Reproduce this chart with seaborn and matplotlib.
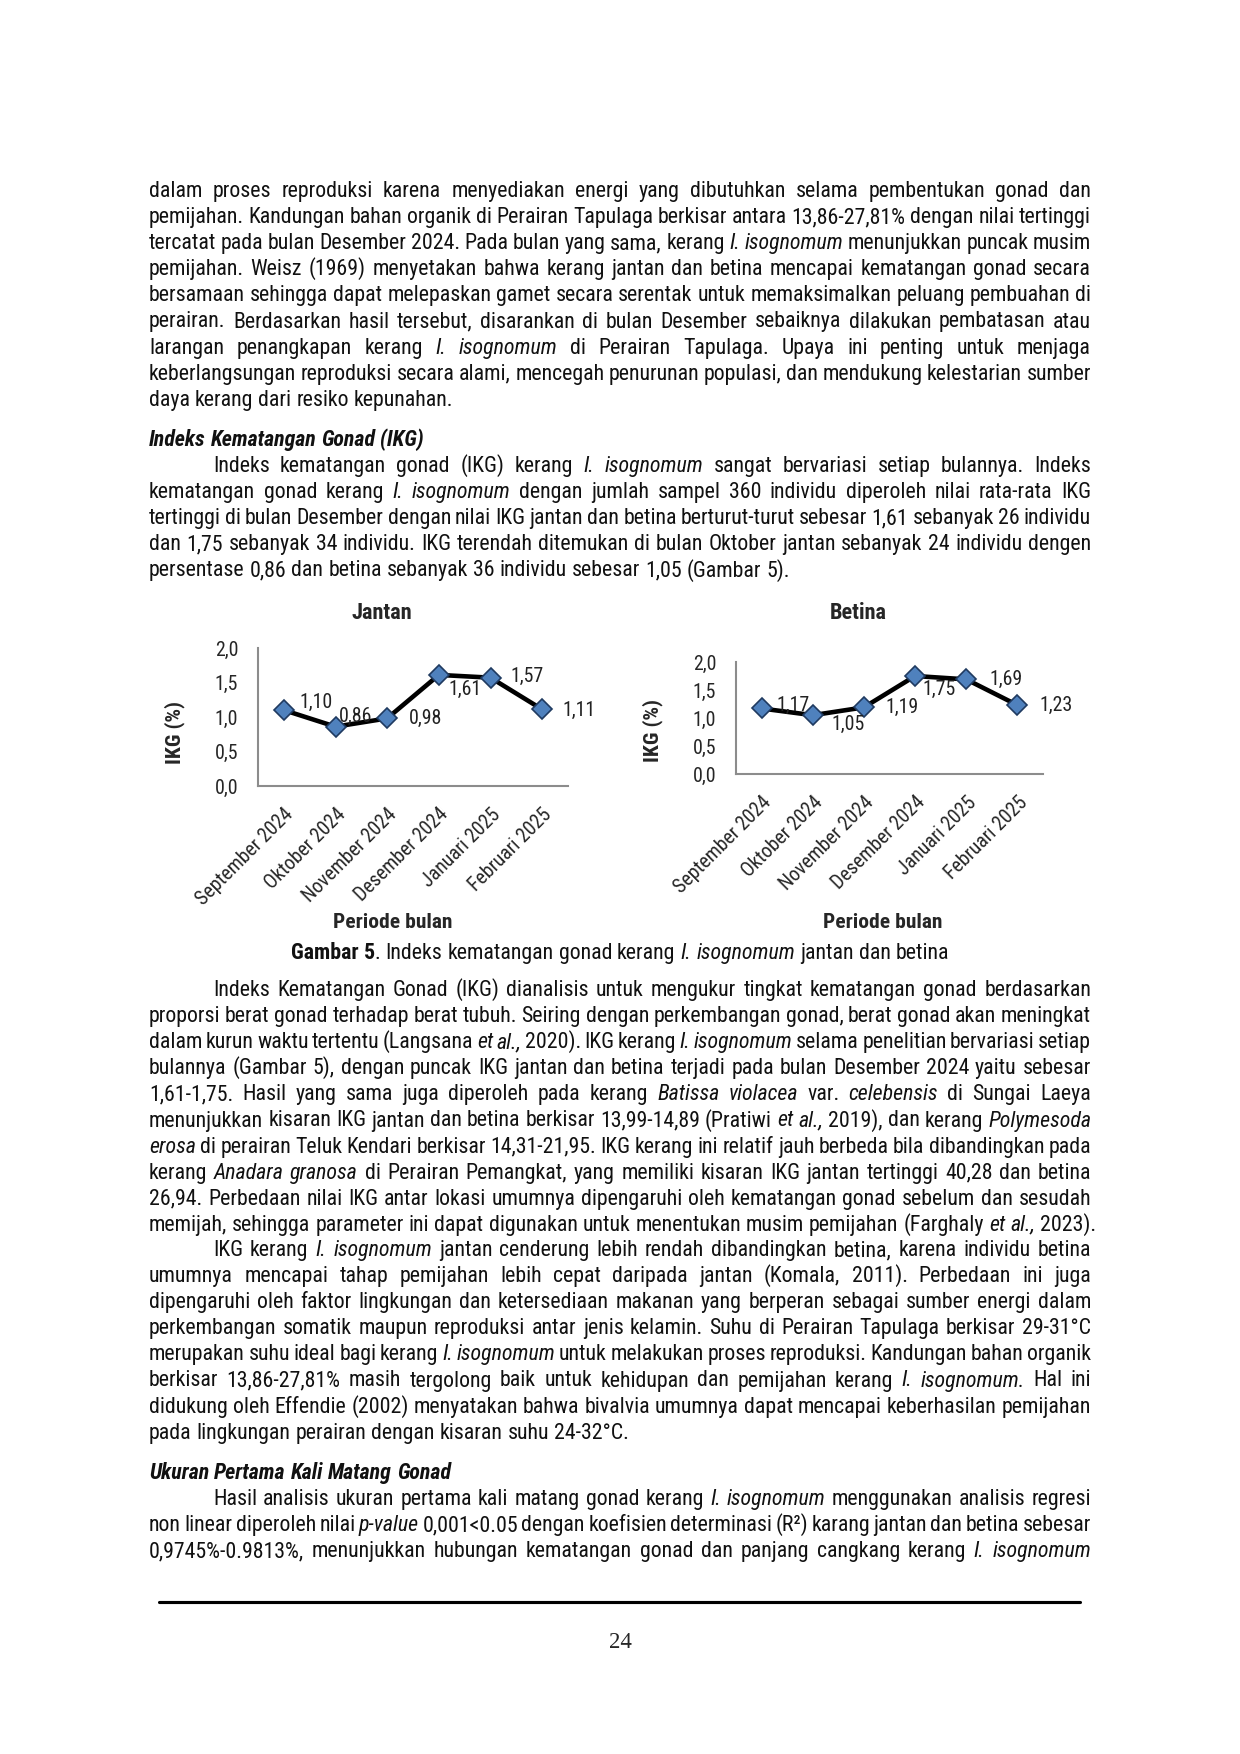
import matplotlib
matplotlib.use('Agg')
import numpy as np
import pandas as pd
import matplotlib.pyplot as plt
import seaborn as sns
from matplotlib import font_manager
from matplotlib.font_manager import FontProperties
from matplotlib.lines import Line2D

# --- chart data (Gambar 5) ---
months = ['September 2024', 'Oktober 2024', 'November 2024',
          'Desember 2024', 'Januari 2025', 'Februari 2025']
ikg_jantan = [1.10, 0.86, 0.98, 1.61, 1.57, 1.11]
ikg_betina = [1.17, 1.05, 1.19, 1.75, 1.69, 1.23]
y_ticks = [0.0, 0.5, 1.0, 1.5, 2.0]

# --- page text; _italic_ and ^bold^ ---
par1 = [
    "dalam proses reproduksi karena menyediakan energi yang dibutuhkan selama pembentukan gonad dan",
    "pemijahan. Kandungan bahan organik di Perairan Tapulaga berkisar antara 13,86-27,81% dengan nilai tertinggi",
    "tercatat pada bulan Desember 2024. Pada bulan yang sama, kerang _I. isognomum_ menunjukkan puncak musim",
    "pemijahan. Weisz (1969) menyetakan bahwa kerang jantan dan betina mencapai kematangan gonad secara",
    "bersamaan sehingga dapat melepaskan gamet secara serentak untuk memaksimalkan peluang pembuahan di",
    "perairan. Berdasarkan hasil tersebut, disarankan di bulan Desember sebaiknya dilakukan pembatasan atau",
    "larangan penangkapan kerang _I. isognomum_ di Perairan Tapulaga. Upaya ini penting untuk menjaga",
    "keberlangsungan reproduksi secara alami, mencegah penurunan populasi, dan mendukung kelestarian sumber",
    "daya kerang dari resiko kepunahan.",
]
heading1 = "_^Indeks Kematangan Gonad (IKG)^_"
par2 = [
    "Indeks kematangan gonad (IKG) kerang _I. isognomum_  sangat bervariasi setiap bulannya. Indeks",
    "kematangan gonad kerang _I. isognomum_ dengan jumlah sampel 360 individu diperoleh nilai rata-rata IKG",
    "tertinggi di bulan Desember dengan nilai IKG jantan dan betina berturut-turut sebesar 1,61 sebanyak 26 individu",
    "dan 1,75 sebanyak 34 individu. IKG terendah ditemukan di bulan Oktober jantan sebanyak 24 individu dengen",
    "persentase 0,86 dan betina sebanyak 36 individu sebesar 1,05 (Gambar 5).",
]
caption = "^Gambar 5^. Indeks kematangan gonad kerang _I. isognomum_ jantan dan betina"
par3 = [
    "Indeks Kematangan Gonad (IKG) dianalisis untuk mengukur tingkat kematangan gonad berdasarkan",
    "proporsi berat gonad terhadap berat tubuh. Seiring dengan perkembangan gonad, berat gonad akan meningkat",
    "dalam kurun waktu tertentu (Langsana _et al.,_ 2020). IKG kerang _I. isognomum_ selama penelitian bervariasi setiap",
    "bulannya (Gambar 5), dengan puncak IKG jantan dan betina terjadi pada bulan Desember 2024 yaitu sebesar",
    "1,61-1,75. Hasil yang sama juga diperoleh pada kerang _Batissa violacea_ var. _celebensis_ di Sungai Laeya",
    "menunjukkan kisaran IKG jantan dan betina berkisar 13,99-14,89 (Pratiwi _et al.,_ 2019), dan kerang _Polymesoda_",
    "_erosa_ di perairan Teluk Kendari berkisar 14,31-21,95. IKG kerang ini relatif jauh berbeda bila dibandingkan pada",
    "kerang _Anadara granosa_ di Perairan Pemangkat, yang memiliki kisaran IKG jantan tertinggi 40,28 dan betina",
    "26,94. Perbedaan nilai IKG antar lokasi umumnya dipengaruhi oleh kematangan gonad sebelum dan sesudah",
    "memijah, sehingga parameter ini dapat digunakan untuk menentukan musim pemijahan (Farghaly _et al.,_ 2023).",
]
par4 = [
    "IKG kerang _I. isognomum_ jantan cenderung lebih rendah dibandingkan betina, karena individu betina",
    "umumnya mencapai tahap pemijahan lebih cepat daripada jantan (Komala, 2011). Perbedaan ini juga",
    "dipengaruhi oleh faktor lingkungan dan ketersediaan makanan yang berperan sebagai sumber energi dalam",
    "perkembangan somatik maupun reproduksi antar jenis kelamin. Suhu di Perairan Tapulaga berkisar 29-31°C",
    "merupakan suhu ideal bagi kerang _I. isognomum_ untuk melakukan proses reproduksi. Kandungan bahan organik",
    "berkisar 13,86-27,81% masih tergolong baik untuk kehidupan dan pemijahan kerang _I. isognomum._ Hal ini",
    "didukung oleh Effendie (2002) menyatakan bahwa bivalvia umumnya dapat mencapai keberhasilan pemijahan",
    "pada lingkungan perairan dengan kisaran suhu 24-32°C.",
]
heading2 = "_^Ukuran Pertama Kali Matang Gonad^_"
par5 = [
    "Hasil analisis ukuran pertama kali matang gonad kerang _I. isognomum_ menggunakan analisis regresi",
    "non linear diperoleh nilai _p-value_ 0,001<0.05 dengan koefisien determinasi (R²) karang jantan dan betina sebesar",
    "0,9745%-0.9813%, menunjukkan hubungan kematangan gonad dan panjang cangkang kerang _I. isognomum_",
]
page_no = "24"

# --- fonts ---
available = {f.name for f in font_manager.fontManager.ttflist}
BODY_FONT = 'Liberation Sans'
for cand in ['Liberation Sans Narrow', 'Arial Narrow', 'Roboto Condensed', 'Open Sans Condensed']:
    if cand in available:
        BODY_FONT = cand
        break

sns.set_style('white')
plt.rcParams['font.family'] = [BODY_FONT, 'DejaVu Sans']

W, H = 1240, 1754
fig = plt.figure(figsize=(W / 150, H / 150), dpi=150)
renderer = fig.canvas.get_renderer()

LEFT, RIGHT, INDENT = 149, 1091, 64
STEP = 26.1
BASE_SHIFT = 7


def fx(px):
    return px / W


def fy(py):
    return 1 - py / H


def prop(style, size):
    it, bd = style
    return FontProperties(family=[BODY_FONT, 'DejaVu Sans'], size=size,
                          style='italic' if it else 'normal',
                          weight='bold' if bd else 'normal')


def tw(text, style, size):
    return renderer.get_text_width_height_descent(text, prop(style, size), ismath=False)[0]


def space_w(size):
    st = (False, False)
    return tw('a a', st, size) - tw('aa', st, size)


def parse_words(line):
    words, word = [], []
    italic = bold = False
    for ch in line:
        if ch == '_':
            italic = not italic
            continue
        if ch == '^':
            bold = not bold
            continue
        if ch == ' ':
            if word:
                words.append(word)
                word = []
            continue
        st = (italic, bold)
        if word and word[-1][0] == st:
            word[-1] = (st, word[-1][1] + ch)
        else:
            word.append((st, ch))
    if word:
        words.append(word)
    return words


def word_width(w, size):
    return sum(tw(t, st, size) for st, t in w)


# pick body size so every justified line fits
BODY_SIZE = 11.0
scale = 1.0
for lines in [par1, par2, par3, par4, par5]:
    for i, line in enumerate(lines):
        words = parse_words(line)
        avail = RIGHT - LEFT - (INDENT if i == 0 else 0)
        need = sum(word_width(w, BODY_SIZE) for w in words) + (len(words) - 1) * space_w(BODY_SIZE) * 0.7
        scale = min(scale, avail / need)
BODY_SIZE = BODY_SIZE * scale
CHART_SIZE = 10.0 * max(scale, 0.85)
LABEL_SIZE = CHART_SIZE * 1.08
TITLE_SIZE = CHART_SIZE * 1.12


def draw_line(line, x0, x1, yc, justify=True, size=None):
    size = size or BODY_SIZE
    words = parse_words(line)
    widths = [word_width(w, size) for w in words]
    if justify and len(words) > 1:
        gap = (x1 - x0 - sum(widths)) / (len(words) - 1)
    else:
        gap = space_w(size)
    x = x0
    for w, wd in zip(words, widths):
        xx = x
        for st, t in w:
            fig.text(fx(xx), fy(yc + BASE_SHIFT), t, fontproperties=prop(st, size),
                     ha='left', va='baseline', color='#111111')
            xx += tw(t, st, size)
        x += wd + gap


def draw_par(lines, y0, indent=True, justify_last=False):
    for i, line in enumerate(lines):
        x0 = LEFT + (INDENT if (indent and i == 0) else 0)
        last = (i == len(lines) - 1) and not justify_last
        draw_line(line, x0, RIGHT, y0 + i * STEP, justify=not last)


def draw_centered(line, xc, yc, size=None):
    size = size or BODY_SIZE
    words = parse_words(line)
    total = sum(word_width(w, size) for w in words) + (len(words) - 1) * space_w(size)
    draw_line(line, xc - total / 2, xc + total / 2, yc, justify=False, size=size)


# --- body text ---
draw_par(par1, 190, indent=False)
draw_line(heading1, LEFT, RIGHT, 439, justify=False)
draw_par(par2, 465)
draw_centered(caption, 620, 952)
draw_par(par3, 989)
draw_par(par4, 1249)
draw_line(heading2, LEFT, RIGHT, 1472, justify=False)
draw_par(par5, 1498, justify_last=True)

fig.add_artist(Line2D([fx(159), fx(1080)], [fy(1602), fy(1602)], color='black', lw=1.5))
fig.text(fx(620), fy(1642), page_no, ha='center', va='center',
         family=['Liberation Serif', 'DejaVu Serif'], fontsize=11)


# --- charts ---
def fmt(v):
    return f"{v:.2f}".replace('.', ',')


def draw_chart(box, values, offsets, title, title_xy, xlabel_xy, ylabel_xy):
    x0, y_top, x1, y_bot = box
    ax = fig.add_axes([fx(x0), fy(y_bot), (x1 - x0) / W, (y_bot - y_top) / H])
    df = pd.DataFrame({'bulan': np.arange(len(months)) + 0.5, 'ikg': values})
    sns.lineplot(data=df, x='bulan', y='ikg', ax=ax, color='black', linewidth=2.2,
                 marker='D', markersize=7, markerfacecolor='#4F81BD',
                 markeredgecolor='#1F3A60', markeredgewidth=0.8)
    ax.set_xlim(0, len(months))
    ax.set_ylim(0, 2)
    ax.set_xticks(df['bulan'])
    ax.set_xticklabels(months, rotation=45, ha='right', rotation_mode='anchor',
                       fontsize=CHART_SIZE)
    ax.set_yticks(y_ticks)
    ax.set_yticklabels([f"{t:.1f}".replace('.', ',') for t in y_ticks], fontsize=CHART_SIZE)
    ax.tick_params(axis='y', length=0, pad=9.5)
    ax.tick_params(axis='x', length=0, pad=9)
    ax.set_xlabel('')
    ax.set_ylabel('')
    sns.despine(ax=ax)
    for side in ['left', 'bottom']:
        ax.spines[side].set_color('#8C8C8C')
        ax.spines[side].set_linewidth(1.0)
    ax.patch.set_alpha(0)
    for xv, v, (dx, dy) in zip(df['bulan'], values, offsets):
        ax.annotate(fmt(v), (xv, v), xytext=(dx, -dy), textcoords='offset pixels',
                    ha='center', va='center', fontsize=CHART_SIZE, color='#222222')
    fig.text(fx(title_xy[0]), fy(title_xy[1]), title, ha='center', va='center',
             fontsize=TITLE_SIZE, fontweight='bold')
    fig.text(fx(xlabel_xy[0]), fy(xlabel_xy[1]), 'Periode bulan', ha='center', va='center',
             fontsize=LABEL_SIZE, fontweight='bold')
    fig.text(fx(ylabel_xy[0]), fy(ylabel_xy[1]), 'IKG (%)', ha='center', va='center',
             rotation=90, fontsize=LABEL_SIZE, fontweight='bold')
    return ax


off_jantan = [(32, -8), (20, -10), (38, 0), (26, 14), (37, -1), (37, 1)]
off_betina = [(31, -3), (35, 9), (38, 0), (24, 13), (40, 0), (39, 0)]

draw_chart((258, 648, 568, 786), ikg_jantan, off_jantan, 'Jantan',
           (382, 613), (393, 922), (175, 733))
draw_chart((736, 662, 1043, 774), ikg_betina, off_betina, 'Betina',
           (858, 613), (883, 923), (653, 730))

fig.savefig('out.png', dpi=150, facecolor='white')
